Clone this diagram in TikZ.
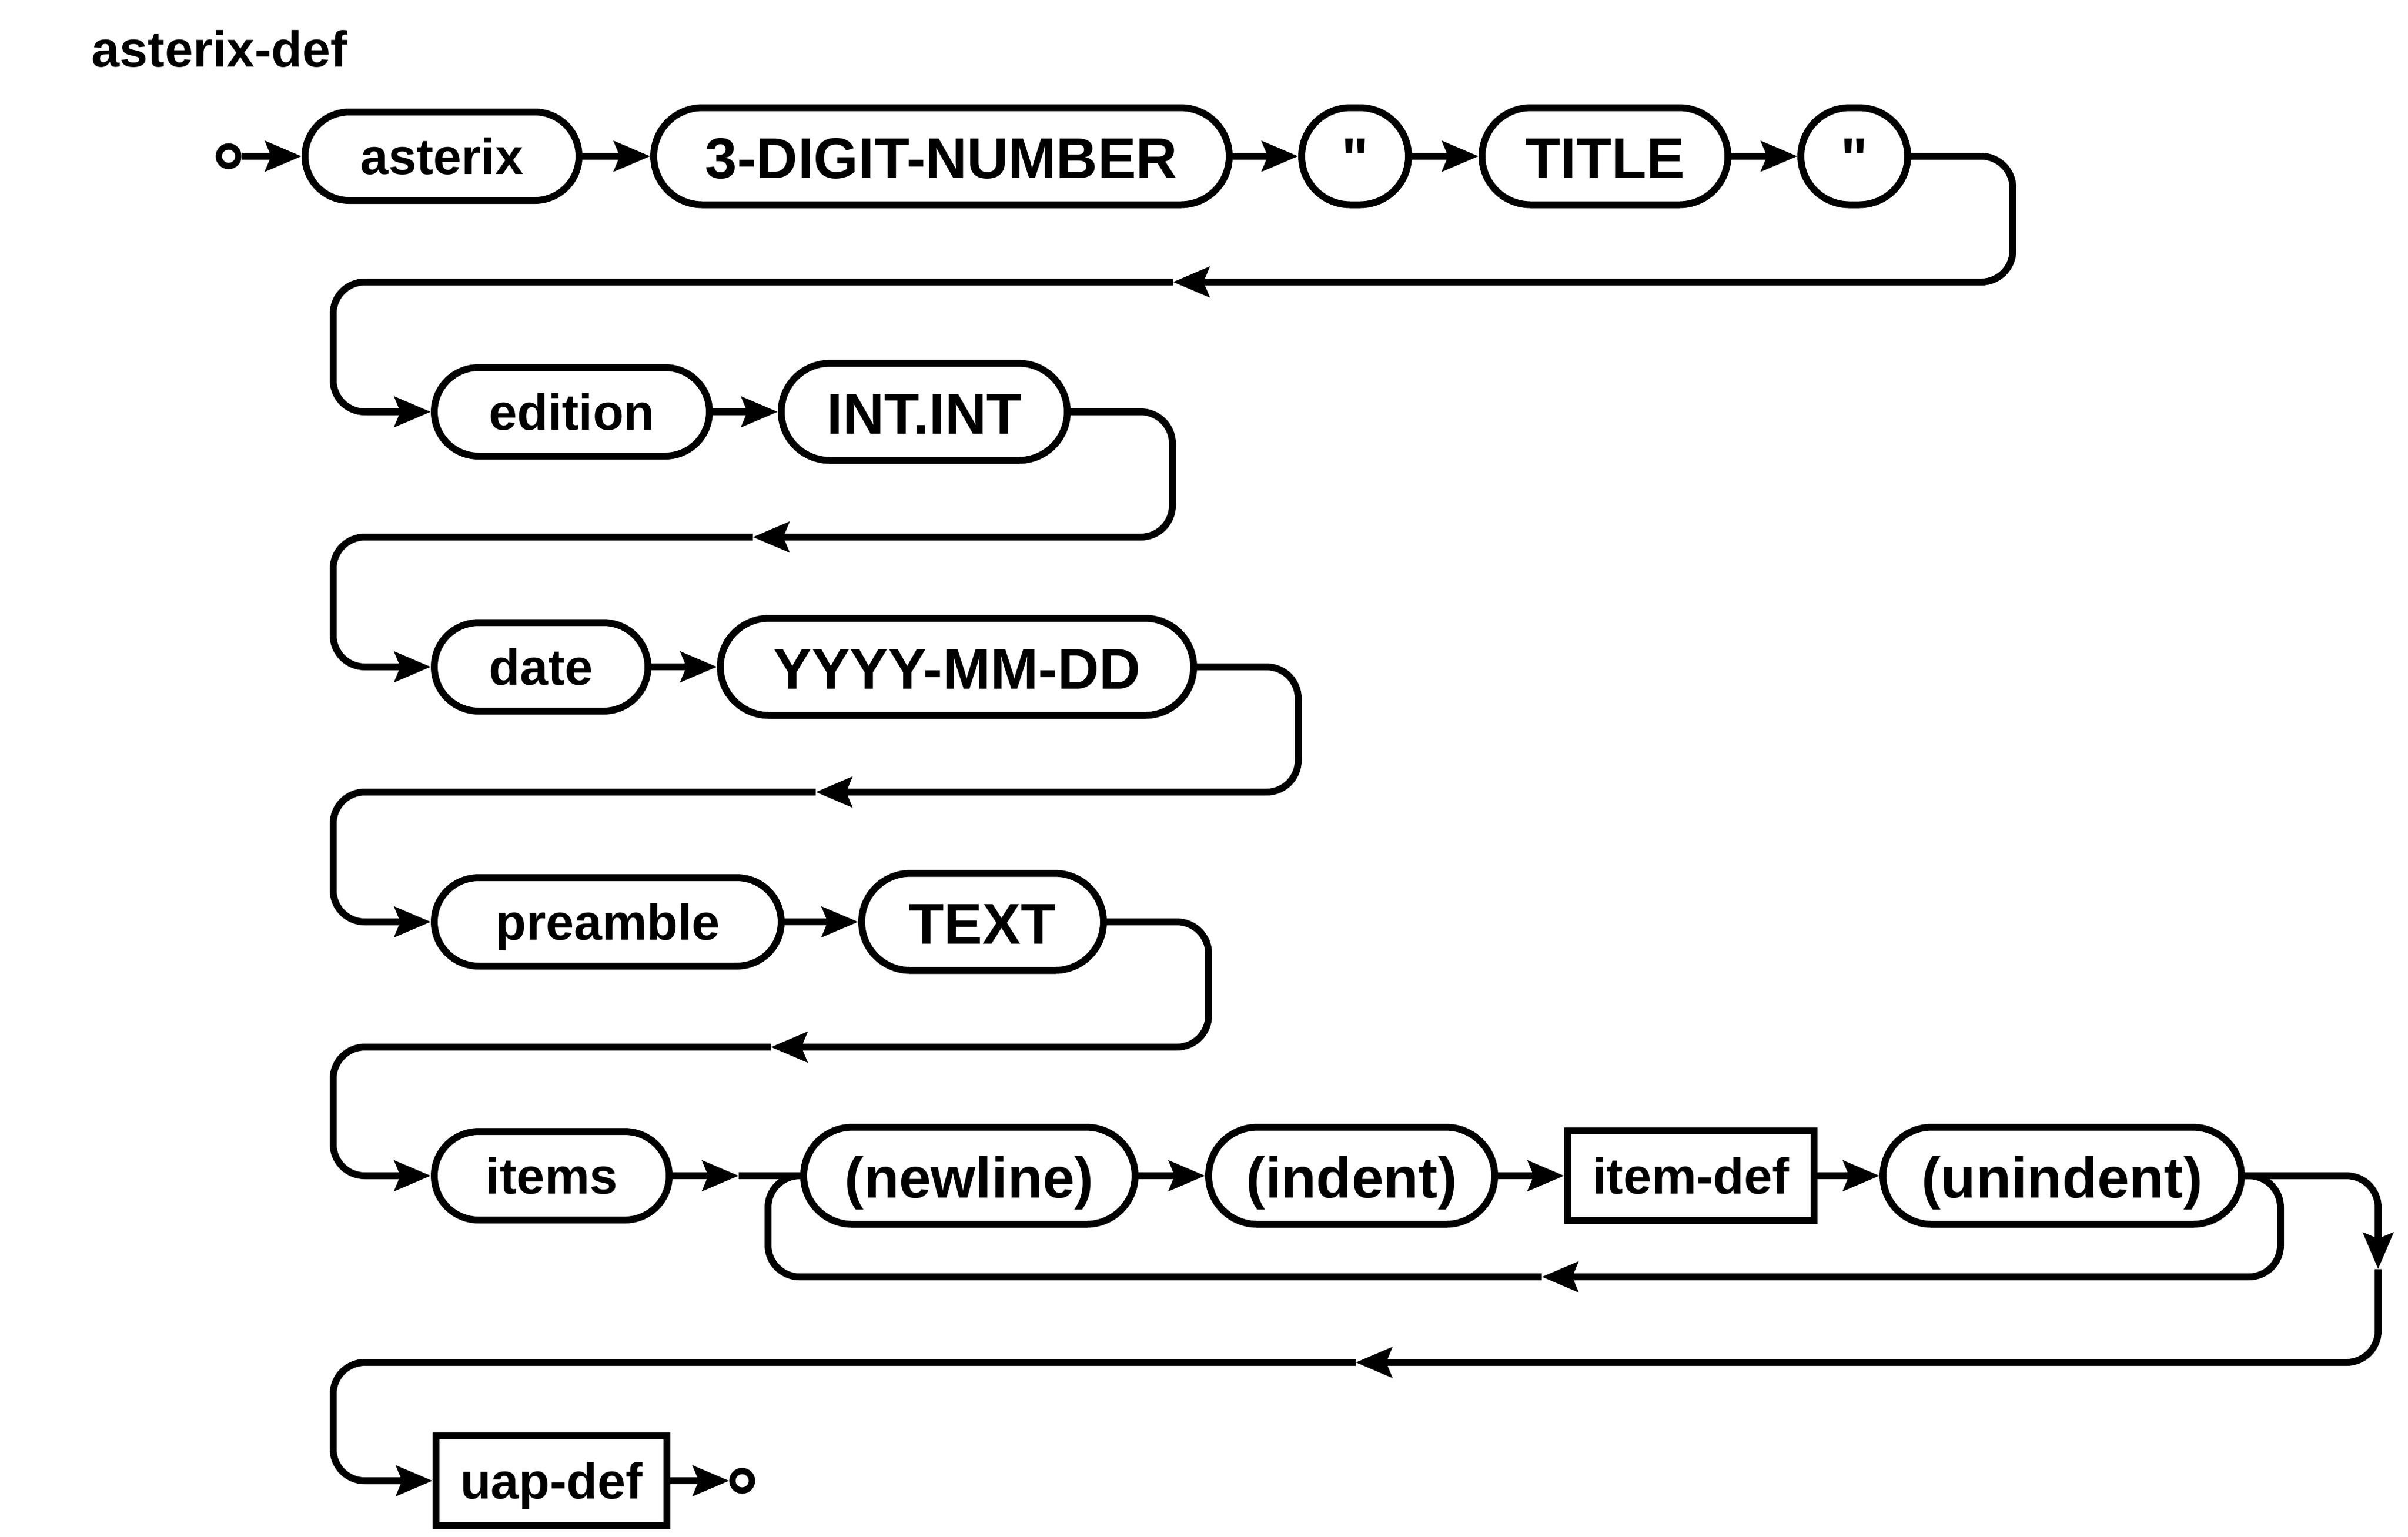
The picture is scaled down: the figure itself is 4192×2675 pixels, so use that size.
\documentclass[tikz,border=0pt]{standalone}
\usepackage{fontspec}
\newfontfamily\railfont{Liberation Sans}
\usetikzlibrary{arrows.meta}
\tikzset{%
  rail/.style={draw,line width=1.2pt,rounded corners=5.5pt},
  kwbox/.style={draw,line width=1.2pt,rounded corners=7.7pt,minimum height=15.4pt,minimum width=#1,inner sep=0,
    font=\railfont\fontsize{8.8pt}{10pt}\selectfont\bfseries,text height=7pt,text depth=0.8pt},
  tbox/.style={draw,line width=1.2pt,rounded corners=8.45pt,minimum height=16.9pt,minimum width=#1,inner sep=0,
    font=\railfont\fontsize{10pt}{12pt}\selectfont\bfseries,text height=8.6pt,text depth=1pt},
  ntbox/.style={draw,line width=1.2pt,minimum height=15.6pt,minimum width=#1,inner sep=0,
    font=\railfont\fontsize{8.8pt}{10pt}\selectfont\bfseries,text height=7pt,text depth=0.8pt},
  enddot/.style={draw,shape=circle,line width=1.1pt,inner sep=0,minimum size=3.4pt},
  >={Stealth[length=6.3pt,width=5.2pt,inset=1pt]}
}
\begin{document}
\begin{tikzpicture}[x=0.1pt,y=-0.1pt]
  \useasboundingbox (0,0) rectangle (4192,2675);
  \node (title)[anchor=base west,inner sep=0,font=\railfont\fontsize{8.8pt}{10pt}\selectfont\bfseries] at (158,116) {asterix-def};
  % row 1
  \path
    (398,272) node (start)[enddot]{}
    (769.5,272) node (asterix)[kwbox=47.7pt]{asterix}
    (1639,272) node (number)[tbox=100.2pt]{3-DIGIT-NUMBER}
    (2359,272) node (q_1)[tbox=18.6pt]{"}
    (2794,272) node (title_t)[tbox=42.8pt]{TITLE}
    (3228,272) node (q_2)[tbox=18.6pt]{"};
  \draw[rail,->] (start) -- (asterix);
  \draw[rail,->] (asterix) -- (number);
  \draw[rail,->] (number) -- (q_1);
  \draw[rail,->] (q_1) -- (title_t);
  \draw[rail,->] (title_t) -- (q_2);
  % row 2
  \path
    (995.5,717) node (edition)[kwbox=47.9pt]{edition}
    (1609,717) node (version)[tbox=49.8pt]{INT.INT};
  \draw[rail,->] (edition) -- (version);
  % row 3
  \path
    (942,1161) node (date)[kwbox=37.2pt]{date}
    (1666,1161) node (ymd)[tbox=82.4pt]{YYYY-MM-DD};
  \draw[rail,->] (date) -- (ymd);
  % row 4
  \path
    (1058,1605) node (preamble)[kwbox=60.4pt]{preamble}
    (1710.5,1605) node (text)[tbox=42.1pt]{TEXT};
  \draw[rail,->] (preamble) -- (text);
  % row 5
  \path
    (960.5,2047) node (items)[kwbox=40.9pt]{items}
    (1687.5,2047) node (newline)[tbox=57.7pt]{(newline)}
    (2353,2047) node (indent)[tbox=49.8pt]{(indent)}
    (2943.5,2047) node (itemdef)[ntbox=42.9pt]{item-def}
    (3590,2047) node (unindent)[tbox=62.4pt]{(unindent)};
  \coordinate (j_5) at (1286,2047);
  \draw[rail,->] (items) -- (j_5);
  \draw[rail] (j_5) -- (newline);
  \draw[rail,->] (newline) -- (indent);
  \draw[rail,->] (indent) -- (itemdef);
  \draw[rail,->] (itemdef) -- (unindent);
  % row 6
  \path
    (960,2578) node (uapdef)[ntbox=40.2pt]{uap-def}
    (1292,2578) node (stop)[enddot]{};
  \draw[rail,->] (uapdef) -- (stop);
  % returns between the rows
  \coordinate (m_1) at (2042,491);
  \coordinate (m_2) at (1310.5,935);
  \coordinate (m_3) at (1420,1379);
  \coordinate (m_4) at (1342,1823);
  \coordinate (m_5) at (2360,2372);
  \coordinate (d_5) at (4140,2209.5);
  \coordinate (l_5) at (2684,2223);
  \draw[rail,->] (q_2.east) -- (3504,272) -- (3504,491) -- (m_1);
  \draw[rail,->] (m_1) -- (580,491) -- (580,717) -- (edition.west);
  \draw[rail,->] (version.east) -- (2041,717) -- (2041,935) -- (m_2);
  \draw[rail,->] (m_2) -- (580,935) -- (580,1161) -- (date.west);
  \draw[rail,->] (ymd.east) -- (2260,1161) -- (2260,1379) -- (m_3);
  \draw[rail,->] (m_3) -- (580,1379) -- (580,1605) -- (preamble.west);
  \draw[rail,->] (text.east) -- (2104,1605) -- (2104,1823) -- (m_4);
  \draw[rail,->] (m_4) -- (580,1823) -- (580,2047) -- (items.west);
  % loop back
  \draw[rail,->] (unindent.east) -- (3970,2047) -- (3970,2223) -- (l_5);
  \draw[rail] (l_5) -- (1337,2223) -- (1337,2047) -- (newline.west);
  \draw[rail,->] (unindent.east) -- (4140,2047) -- (d_5);
  \draw[rail,->] (d_5) -- (4140,2372) -- (m_5);
  \draw[rail,->] (m_5) -- (580,2372) -- (580,2578) -- (uapdef.west);
\end{tikzpicture}
\end{document}
